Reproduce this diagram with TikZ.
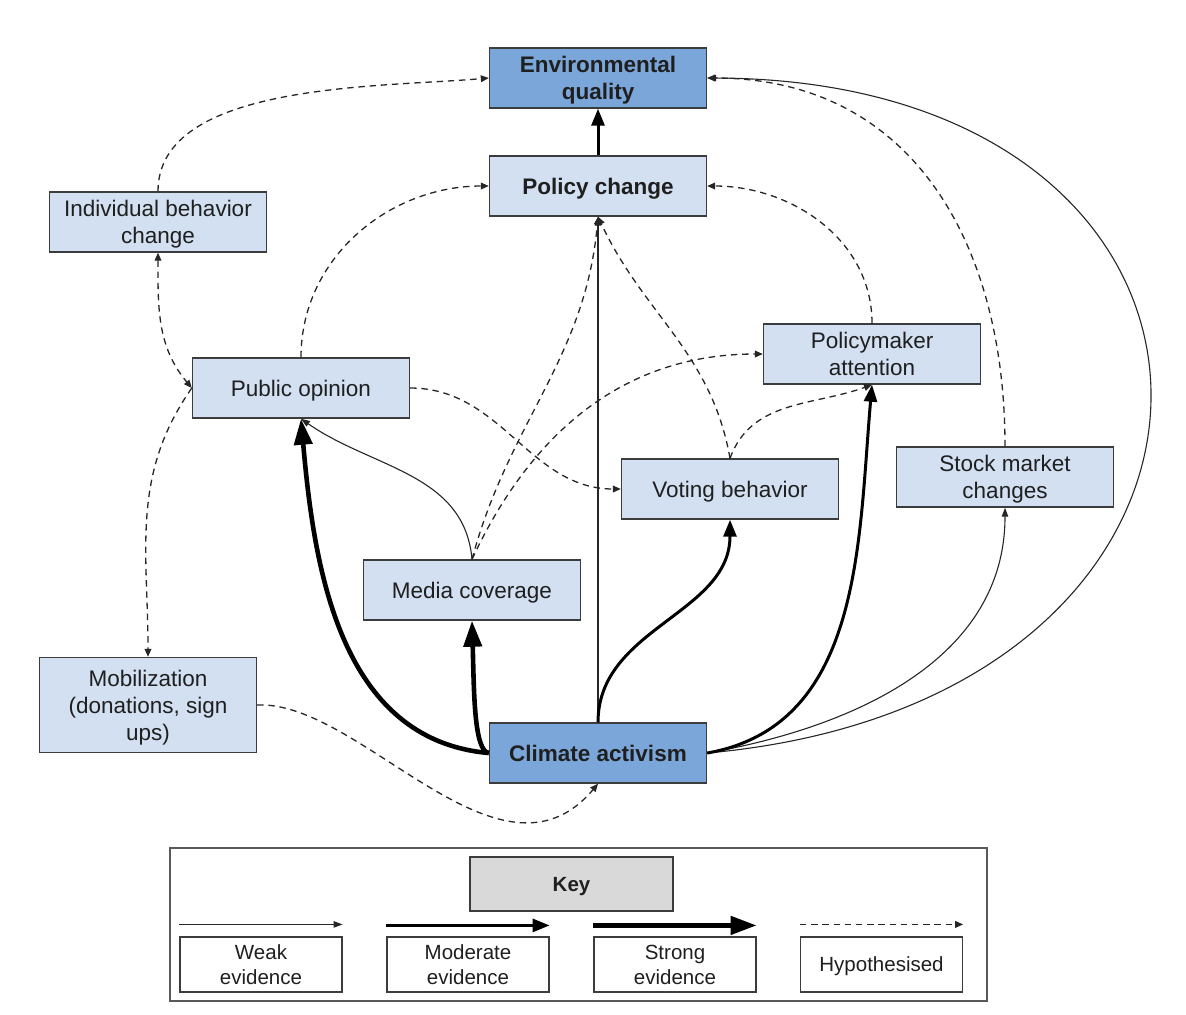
\documentclass[tikz,border=0pt]{standalone}
\usepackage{fontspec}
\setmainfont{Liberation Sans}
\usetikzlibrary{arrows.meta}

\definecolor{boxblue}{HTML}{D2E0F1}
\definecolor{darkblue}{HTML}{7BA6DA}
\definecolor{keygray}{HTML}{D9D9D9}
\definecolor{boxline}{HTML}{3C3C3C}

\begin{document}
\begin{tikzpicture}
[
	x=0.5pt, y=0.5pt,
	>={Triangle[length=4pt,width=3.4pt]},
	box/.style={draw=boxline,line width=0.7pt,fill=boxblue,minimum width=108.5pt,minimum height=30pt,inner sep=2pt,text depth=0pt,align=center,text=black!88,font=\fontsize{11.25}{13.5}\selectfont},
	boldbox/.style={box,font=\fontsize{11.25}{13.5}\selectfont\bfseries},
	mainbox/.style={boldbox,fill=darkblue},
	keybox/.style={draw=boxline,line width=0.6pt,fill=white,minimum width=81pt,minimum height=27.5pt,inner sep=1pt,text depth=0pt,align=center,text=black!88,font=\fontsize{10.25}{12.5}\selectfont},
	weakarrow/.style={line width=0.55pt,black!85,-{Triangle[length=4.5pt,width=3.2pt]}},
	modarrow/.style={line width=1.5pt,-{Triangle[length=8.5pt,width=6.5pt]}},
	strongarrow/.style={line width=2.3pt,-{Triangle[length=13pt,width=9pt]}},
	hypoarrow/.style={line width=0.65pt,black!85,dash pattern=on 3.2pt off 2.4pt,->}
]

	\useasboundingbox (0,0) rectangle (1186,-1014);

	% boxes
	\node[mainbox] (eq) at (598,-78) {Environmental\\quality};
	\node[boldbox] (pc) at (598,-186) {Policy change};
	\node[box] (ibc) at (158,-222) {Individual behavior\\change};
	\node[box] (po) at (301,-388) {Public opinion};
	\node[box] (pa) at (872,-354) {Policymaker\\attention};
	\node[box] (vb) at (730,-489) {Voting behavior};
	\node[box] (sm) at (1005,-477) {Stock market\\changes};
	\node[box] (mc) at (472,-590) {Media coverage};
	\node[box,minimum height=47.5pt] (mob) at (148,-705) {Mobilization\\(donations, sign\\ups)};
	\node[mainbox] (ca) at (598,-753) {Climate activism};

	% hypothesised links
	\draw[hypoarrow] (ibc.north) to[out=90,in=185,looseness=0.8] (eq.west);
	\draw[hypoarrow] (po.north) to[out=90,in=180] (pc.west);
	\draw[hypoarrow,<->] (ibc.south) to[out=-90,in=130] (po.west);
	\draw[hypoarrow] (po.west) to[out=235,in=90] (mob.north);
	\draw[hypoarrow] (po.east) to[out=0,in=180] (vb.west);
	\draw[hypoarrow] (mc.north) to[out=75,in=-95] (pc.south);
	\draw[hypoarrow] (mc.north) to[out=65,in=180] (pa.west);
	\draw[hypoarrow] (vb.north) to[out=100,in=-65] (pc.south);
	\draw[hypoarrow] (vb.north) to[out=70,in=200] (pa.south);
	\draw[hypoarrow] (pa.north) to[out=90,in=0] (pc.east);
	\draw[hypoarrow] (sm.north) to[out=90,in=0,looseness=1.1] (eq.east);
	\draw[hypoarrow] (mob.east) .. controls (360,-700) and (500,-900) .. (ca.south);

	% evidence
	\draw[modarrow] (pc.north) -- (eq.south);
	\draw[weakarrow] (mc.north) to[out=95,in=-35] (po.south);
	\draw[weakarrow] (ca.north) -- (pc.south);
	\draw[weakarrow] (ca.east) .. controls (1300,-700) and (1295,-80) .. (eq.east);
	\draw[weakarrow] (ca.east) to[out=10,in=-90] (sm.south);
	\draw[modarrow] (ca.east) to[out=10,in=-95] (pa.south);
	\draw[modarrow] (ca.north) to[out=90,in=-90] (vb.south);
	\draw[strongarrow] (ca.west) .. controls +(-15,2) and +(2,-70) .. (mc.south);
	\draw[strongarrow] (ca.west) to[out=175,in=-85] (po.south);

	% key
	\draw[boxline!85,line width=0.6pt] (170,-848) rectangle (987,-1001);
	\node[keybox,fill=keygray,minimum width=101.5pt,minimum height=27pt,font=\fontsize{10.25}{12.5}\selectfont\bfseries] (key) at (571.5,-884) {Key};
	\node[keybox] (kweak) at (261,-964.5) {Weak\\evidence};
	\node[keybox] (kmod) at (468,-964.5) {Moderate\\evidence};
	\node[keybox] (kstrong) at (675,-964.5) {Strong\\evidence};
	\node[keybox] (khypo) at (881.5,-964.5) {Hypothesised};
	\draw[weakarrow] ([yshift=6pt]kweak.north west) -- ([yshift=6pt]kweak.north east);
	\draw[modarrow] ([yshift=5.5pt]kmod.north west) -- ([yshift=5.5pt]kmod.north east);
	\draw[strongarrow] ([yshift=5.5pt]kstrong.north west) -- ([yshift=5.5pt]kstrong.north east);
	\draw[hypoarrow] ([yshift=6pt]khypo.north west) -- ([yshift=6pt]khypo.north east);

\end{tikzpicture}
\end{document}
